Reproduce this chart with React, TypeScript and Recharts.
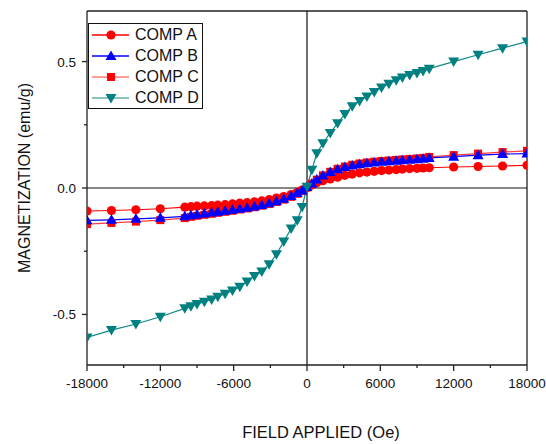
import { LineChart, Line, XAxis, YAxis, ReferenceLine, Legend } from "recharts";

// field values (Oe)
const field = [
  -18000, -16000, -14000, -12000, -10000, -9500, -9000, -8400, -7800, -7300, -6700,
  -6100, -5500, -4900, -4300, -3700, -3100, -2500, -1900, -1300, -800, -400, 0,
  400, 800, 1300, 1900, 2500, 3100, 3700, 4300, 4900, 5500, 6100, 6700, 7300, 7800,
  8400, 9000, 9500, 10000, 12000, 14000, 16000, 18000,
];

const compA = [
  -0.091, -0.089, -0.086, -0.082, -0.076, -0.074, -0.072, -0.071, -0.07, -0.068, -0.066,
  -0.063, -0.06, -0.058, -0.055, -0.051, -0.046, -0.04, -0.034, -0.026, -0.017, -0.008, 0.002,
  0.012, 0.021, 0.029, 0.036, 0.043, 0.05, 0.055, 0.06, 0.063, 0.066, 0.069, 0.071, 0.073, 0.075,
  0.077, 0.078, 0.079, 0.08, 0.083, 0.085, 0.087, 0.09,
];

const compB = [
  -0.128, -0.126, -0.122, -0.118, -0.112, -0.108, -0.105, -0.101, -0.097, -0.094, -0.09,
  -0.086, -0.082, -0.078, -0.073, -0.067, -0.06, -0.052, -0.043, -0.032, -0.02, -0.01, 0.004,
  0.018, 0.034, 0.049, 0.063, 0.074, 0.083, 0.089, 0.094, 0.098, 0.101, 0.104, 0.106, 0.108, 0.11,
  0.112, 0.114, 0.116, 0.119, 0.124, 0.13, 0.134, 0.136,
];

const compC = [
  -0.143, -0.138, -0.133, -0.127, -0.119, -0.114, -0.11, -0.106, -0.102, -0.098, -0.094,
  -0.09, -0.085, -0.081, -0.076, -0.07, -0.063, -0.055, -0.046, -0.035, -0.023, -0.012, 0.002,
  0.017, 0.033, 0.05, 0.064, 0.076, 0.085, 0.092, 0.097, 0.101, 0.104, 0.107, 0.109, 0.111, 0.113,
  0.115, 0.117, 0.119, 0.123, 0.13, 0.136, 0.142, 0.147,
];

const compD = [
  -0.591, -0.562, -0.538, -0.509, -0.476, -0.468, -0.459, -0.45, -0.441, -0.43, -0.418,
  -0.405, -0.391, -0.37, -0.348, -0.33, -0.302, -0.262, -0.212, -0.16, -0.128, -0.075, 0.005,
  0.072, 0.137, 0.177, 0.218, 0.256, 0.293, 0.323, 0.344, 0.362, 0.38, 0.397, 0.412, 0.426, 0.437,
  0.447, 0.455, 0.463, 0.472, 0.5, 0.527, 0.553, 0.579,
];

const xTicks = [-18000, -15000, -12000, -9000, -6000, -3000, 0, 3000, 6000, 9000, 12000, 15000, 18000];
const yTicks = [-0.5, -0.25, 0, 0.25, 0.5];

const data = field.map((f, i) => ({ field: f, a: compA[i], b: compB[i], c: compC[i], d: compD[i] }));

const FONT = "'Liberation Sans', Arial, sans-serif";
const AXIS = "#222";

type Shape = "circle" | "up" | "square" | "down";

const series: { key: string; name: string; color: string; line: string; legendLine: string; shape: Shape }[] = [
  { key: "a", name: "COMP A", color: "#ff0000", line: "#ff0000", legendLine: "#ff0000", shape: "circle" },
  { key: "b", name: "COMP B", color: "#0000ff", line: "#0000ff", legendLine: "#0000ff", shape: "up" },
  { key: "c", name: "COMP C", color: "#ff0000", line: "#ff3c3c", legendLine: "#ff7a7a", shape: "square" },
  { key: "d", name: "COMP D", color: "#008080", line: "#118888", legendLine: "#5fb0ac", shape: "down" },
];

function Marker({ shape, cx, cy, color }: { shape: Shape; cx: number; cy: number; color: string }) {
  if (shape === "circle") return <circle cx={cx} cy={cy} r={4.6} fill={color} />;
  if (shape === "square") return <rect x={cx - 4} y={cy - 4} width={8} height={8} fill={color} />;
  if (shape === "up")
    return <polygon points={`${cx},${cy - 5.5} ${cx - 5.5},${cy + 4} ${cx + 5.5},${cy + 4}`} fill={color} />;
  return <polygon points={`${cx},${cy + 5.5} ${cx - 5.5},${cy - 4} ${cx + 5.5},${cy - 4}`} fill={color} />;
}

function XTick(props: any) {
  const { x, y, payload } = props;
  const major = payload.value % 6000 === 0;
  return (
    <g>
      <line x1={x} x2={x} y1={y} y2={y + (major ? 6 : 3)} stroke={AXIS} strokeWidth={1.3} />
      {major && (
        <text x={x} y={y + 23} textAnchor="middle" fontSize={13.5} fontFamily={FONT} fill="#111">
          {payload.value}
        </text>
      )}
    </g>
  );
}

function YTick(props: any) {
  const { x, y, payload } = props;
  const major = Math.abs(payload.value * 2 - Math.round(payload.value * 2)) < 1e-6;
  return (
    <g>
      <line x1={x} x2={x - (major ? 5 : 3)} y1={y} y2={y} stroke={AXIS} strokeWidth={1.3} />
      {major && (
        <text x={x - 11} y={y + 5} textAnchor="end" fontSize={13.5} fontFamily={FONT} fill="#111">
          {payload.value.toFixed(1)}
        </text>
      )}
    </g>
  );
}

function LegendBox() {
  return (
    <div
      style={{
        border: "1px solid #111",
        width: 113,
        background: "#fff",
        fontFamily: FONT,
        fontSize: 16,
        color: "#111",
      }}
    >
      {series.map((s) => (
        <div key={s.key} style={{ display: "flex", alignItems: "center", height: 21 }}>
          <svg width={46} height={16} style={{ display: "block", flex: "none" }}>
            <line x1={3} x2={40} y1={8} y2={8} stroke={s.legendLine} strokeWidth={1.5} />
            <Marker shape={s.shape} cx={22} cy={8} color={s.color} />
          </svg>
          <span style={{ lineHeight: "21px" }}>{s.name}</span>
        </div>
      ))}
    </div>
  );
}

const drawOrder = ["c", "a", "b", "d"];

export default function App() {
  return (
    <div style={{ position: "absolute", left: 0, top: 0, background: "#fff" }}>
      <LineChart width={546} height={444} data={data} margin={{ top: 11, right: 19, bottom: 0, left: 0 }}>
        <XAxis
          dataKey="field"
          type="number"
          domain={[-18000, 18000]}
          ticks={xTicks}
          interval={0}
          height={79}
          tickSize={0}
          tickMargin={0}
          tickLine={false}
          tick={<XTick />}
          axisLine={{ stroke: AXIS, strokeWidth: 1.3 }}
          allowDataOverflow
          label={{
            value: "FIELD APPLIED (Oe)",
            position: "insideBottom",
            offset: 6.5,
            dx: 14,
            style: { fontFamily: FONT, fontSize: 16.5, fill: "#111" },
          }}
        />
        <YAxis
          type="number"
          domain={[-0.7, 0.7]}
          ticks={yTicks}
          interval={0}
          width={87}
          tickSize={0}
          tickMargin={0}
          tickLine={false}
          tick={<YTick />}
          axisLine={{ stroke: AXIS, strokeWidth: 1.3 }}
          allowDataOverflow
          label={{
            value: "MAGNETIZATION (emu/g)",
            angle: -90,
            position: "insideLeft",
            offset: 24,
            dy: -10,
            style: { fontFamily: FONT, fontSize: 16, fill: "#111", textAnchor: "middle" },
          }}
        />
        <ReferenceLine y={0.7} stroke={AXIS} strokeWidth={1.3} />
        <ReferenceLine x={18000} stroke={AXIS} strokeWidth={1.3} />
        <ReferenceLine y={0} stroke="#111" strokeWidth={1.2} />
        <ReferenceLine x={0} stroke="#111" strokeWidth={1.2} />
        <Legend
          layout="vertical"
          align="center"
          verticalAlign="middle"
          content={() => <LegendBox />}
          wrapperStyle={{ left: 88, top: 23, width: "auto" }}
        />
        {drawOrder.map((k) => {
          const s = series.find((q) => q.key === k)!;
          return (
            <Line
              key={s.key}
              dataKey={s.key}
              name={s.name}
              stroke={s.line}
              strokeWidth={1.2}
              isAnimationActive={false}
              dot={(p: any) => (
                <Marker key={`${s.key}-${p.index}`} shape={s.shape} cx={p.cx} cy={p.cy} color={s.color} />
              )}
              activeDot={false}
            />
          );
        })}
      </LineChart>
    </div>
  );
}
